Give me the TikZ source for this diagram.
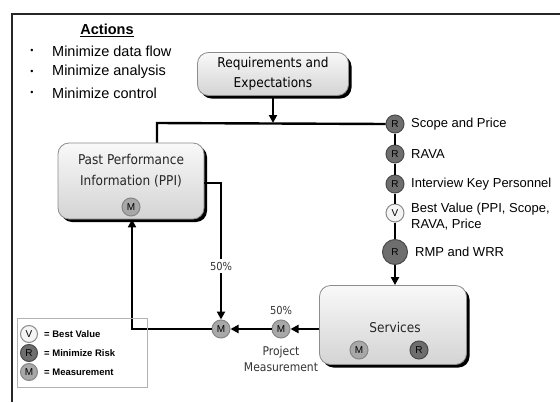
\documentclass[tikz,border=0pt]{standalone}
\usepackage{fontspec}
\setmainfont{Liberation Sans}
\newfontfamily\boxfont{DejaVu Sans Condensed}
\usetikzlibrary{shadows,arrows.meta}
\definecolor{riskfill}{HTML}{6E6E6E}
\definecolor{riskline}{HTML}{4A4A4A}
\definecolor{measfill}{HTML}{A8A8A8}
\definecolor{measline}{HTML}{858585}
\definecolor{valfill}{HTML}{F4F4F4}
\definecolor{valline}{HTML}{8A8A8A}
\definecolor{boxline}{HTML}{8C8C8C}
\begin{document}
\begin{tikzpicture}[x=1pt,y=-1pt,
  flow/.style={line width=2.4pt,black},
  arr/.style={flow,-{Triangle[length=8pt,width=8pt]}},
  procbox/.style={rounded corners=11pt,draw=boxline,line width=0.8pt,
    top color=gray!5,bottom color=gray!34,
    drop shadow={shadow xshift=3pt,shadow yshift=-3pt,fill=black,opacity=1},
    font=\boxfont\fontsize{13.5}{20}\selectfont,align=center,inner sep=0pt},
  boxtxt/.style={font=\boxfont\fontsize{13.5}{21}\selectfont,align=center,inner sep=0pt,text=black!85},
  badge/.style={circle,minimum size=18pt,inner sep=0pt,line width=1pt,
    font=\fontsize{10}{10}\selectfont},
  rb/.style={badge,fill=riskfill,draw=riskline},
  mb/.style={badge,fill=measfill,draw=measline},
  vb/.style={badge,fill=valfill,draw=valline},
  steplabel/.style={anchor=west,font=\fontsize{13}{16}\selectfont,align=left,inner sep=0pt},
  smalltxt/.style={font=\boxfont\fontsize{12}{16}\selectfont,text=black!80,align=center,inner sep=0pt},
  legtxt/.style={anchor=west,font=\bfseries\fontsize{9.5}{10}\selectfont,inner sep=0pt},
  actitem/.style={anchor=west,font=\fontsize{14.5}{16}\selectfont,inner sep=0pt}
]
\useasboundingbox (0,0) rectangle (560,402);

% outer frame (top and left edges)
\draw[line width=2.2pt,black!85] (12,402) -- (12,14) -- (560,14);

% actions list
\node[font=\bfseries\fontsize{14.5}{16}\selectfont,inner sep=0pt] (acttitle) at (107,30) {\underline{Actions}};
\foreach \yy/\txt [count=\i] in {51/Minimize data flow,72/Minimize analysis,93/Minimize control}{
  \node[font=\fontsize{9}{10}\selectfont,inner sep=0pt] (bul\i) at (32,\yy) {\textbullet};
  \node[actitem] (act\i) at (52,\yy) {\txt};
}

% process boxes
\node[procbox,minimum width=151pt,minimum height=43pt] (req) at (273,74) {Requirements and\\Expectations};
\node[procbox,minimum width=146pt,minimum height=76pt] (ppi) at (131,181) {};
\node[boxtxt] (ppitxt) at (131,171) {Past Performance\\Information (PPI)};
\node[mb] (ppim) at (131,207) {M};
\node[procbox,minimum width=147pt,minimum height=79pt] (srv) at (393,325) {};
\node[boxtxt] (srvtxt) at (395,327) {Services};
\node[mb] (srvm) at (359,350) {M};
\node[rb] (srvr) at (419,350) {R};

% selection steps on the right
\node[rb] (s1) at (395,124) {R};
\node[rb] (s2) at (395,154) {R};
\node[rb] (s3) at (395,184) {R};
\node[vb] (s4) at (395,213) {V};
\node[rb,minimum size=25pt] (s5) at (395,252) {R};
\node[steplabel] (l1) at (411,124) {Scope and Price};
\node[steplabel] (l2) at (411,154) {RAVA};
\node[steplabel] (l3) at (411,184) {Interview Key Personnel};
\node[steplabel] (l4) at (411,217) {Best Value (PPI, Scope,\\RAVA, Price};
\node[steplabel] (l5) at (415,252) {RMP and WRR};

% connectors
\coordinate (split) at (157,123);
\coordinate (join) at (273,123);
\draw[flow] (ppi.north -| split) -- (split) -- (s1.west);
\draw[arr] (req.south) -- (join);
\draw[flow] (s1) -- (s2) -- (s3) -- (s4) -- (s5);
\draw[arr] (s5.south) -- (srv.north -| s5);

% measurement flow
\node[mb] (m2) at (281,329) {M};
\node[mb] (m1) at (221,329) {M};
\node[smalltxt,font=\boxfont\fontsize{11}{13}\selectfont] (pct2) at (281,310) {50\%};
\node[smalltxt] (projm) at (281,359) {Project\\Measurement};
\coordinate (ppiout) at (221,183);
\coordinate (back) at (132,329);
\draw[arr] (srv.west |- m2) -- (m2.east);
\draw[arr] (m2.west) -- (m1.east);
\draw[arr] (ppi.east |- ppiout) -- (ppiout) -- (m1.north);
\node[smalltxt,font=\boxfont\fontsize{11}{13}\selectfont,fill=white,inner sep=2.5pt] (pct1) at (221,266) {50\%};
\draw[arr] (m1.west) -- (back) -- (back |- ppi.south);

% legend
\draw[draw=gray!60,line width=0.8pt] (17,318) rectangle (147,387);
\node[vb,minimum size=17pt] (lv) at (29,334) {V};
\node[rb,minimum size=17pt] (lr) at (29,353) {R};
\node[mb,minimum size=17pt] (lm) at (29,372) {M};
\node[legtxt] (tv) at (44,334) {= Best Value};
\node[legtxt] (tr) at (44,353) {= Minimize Risk};
\node[legtxt] (tm) at (44,372) {= Measurement};
\end{tikzpicture}
\end{document}
